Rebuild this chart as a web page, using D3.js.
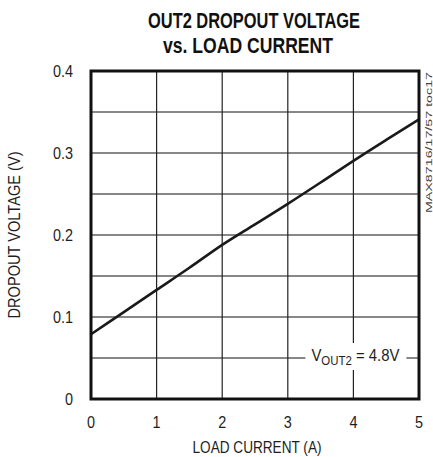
<!DOCTYPE html>
<html>
<head>
<meta charset="utf-8">
<script src="https://cdn.jsdelivr.net/npm/d3@7"></script>
<style>
  body { margin: 0; background: #fff; }
  text { font-family: "Liberation Sans", Arial, sans-serif; fill: #1e1e1e; }
</style>
</head>
<body>
<div></div>
<script>
const width = 433;
const height = 457;

// load current (A) vs dropout voltage (V)
const current = [0, 0.5, 1, 1.5, 2, 2.5, 3, 3.5, 4, 4.5, 5];
const dropout = [0.079, 0.106, 0.133, 0.160, 0.188, 0.213, 0.238, 0.264, 0.2905, 0.316, 0.341];
const xTicks = [0, 1, 2, 3, 4, 5];
const yTicks = [0, 0.1, 0.2, 0.3, 0.4];
const yGrid = [0.05, 0.1, 0.15, 0.2, 0.25, 0.3, 0.35];

const margin = {top: 71, right: 14, bottom: 58, left: 91};

const x = d3.scaleLinear().domain([0, 5]).range([margin.left, width - margin.right]);
const y = d3.scaleLinear().domain([0, 0.4]).range([height - margin.bottom, margin.top]);

const svg = d3.select("body>div").append("svg")
    .attr("width", width)
    .attr("height", height)
    .attr("viewBox", [0, 0, width, height]);

// squeeze a text to a target width (the original uses a condensed face)
function squeeze(sel, w) {
    sel.attr("textLength", w).attr("lengthAdjust", "spacingAndGlyphs");
    return sel;
}
function narrow(sel, f) {
    sel.each(function () {
        const n = this.getComputedTextLength();
        d3.select(this).attr("textLength", n * f).attr("lengthAdjust", "spacingAndGlyphs");
    });
    return sel;
}

// title
squeeze(svg.append("text")
    .attr("x", 254).attr("y", 28)
    .attr("text-anchor", "middle")
    .style("font-size", "22px").style("font-weight", "bold")
    .style("fill", "#111")
    .text("OUT2 DROPOUT VOLTAGE"), 212);
squeeze(svg.append("text")
    .attr("x", 248).attr("y", 53)
    .attr("text-anchor", "middle")
    .style("font-size", "22px").style("font-weight", "bold")
    .style("fill", "#111")
    .text("vs. LOAD CURRENT"), 170);

// grid
svg.append("g")
    .attr("stroke", "#111")
    .attr("stroke-width", 1)
    .selectAll("line")
    .data(yGrid)
    .join("line")
    .attr("x1", x(0)).attr("x2", x(5))
    .attr("y1", d => y(d)).attr("y2", d => y(d));

svg.append("g")
    .attr("stroke", "#222")
    .attr("stroke-width", 1.2)
    .selectAll("line")
    .data([1, 2, 3, 4])
    .join("line")
    .attr("x1", d => x(d)).attr("x2", d => x(d))
    .attr("y1", y(0)).attr("y2", y(0.4));

// curve
const line = d3.line()
    .x((d, i) => x(current[i]))
    .y(d => y(d))
    .curve(d3.curveMonotoneX);

svg.append("path")
    .datum(dropout)
    .attr("fill", "none")
    .attr("stroke", "#1a1a1a")
    .attr("stroke-width", 2.6)
    .attr("d", line);

// label with white backing
const lbl = svg.append("g").attr("transform", `translate(${x(4)},${y(0.05)})`);
lbl.append("rect")
    .attr("x", -48).attr("y", -15).attr("width", 101).attr("height", 27)
    .attr("fill", "#fff");
const lt = lbl.append("text")
    .attr("x", -42).attr("y", 3)
    .style("font-size", "17px");
lt.append("tspan").text("V");
lt.append("tspan").attr("dy", 4).style("font-size", "13px").text("OUT2");
lt.append("tspan").attr("dy", -4).text(" = 4.8V");
squeeze(lt, 88);

// frame
svg.append("rect")
    .attr("x", x(0)).attr("y", y(0.4))
    .attr("width", x(5) - x(0)).attr("height", y(0) - y(0.4))
    .attr("fill", "none")
    .attr("stroke", "#111")
    .attr("stroke-width", 3);

// tick labels
narrow(svg.append("g")
    .selectAll("text")
    .data(yTicks)
    .join("text")
    .attr("x", 73).attr("y", d => y(d) + 6)
    .attr("text-anchor", "end")
    .style("font-size", "16px")
    .text(d => d === 0 ? "0" : d3.format(".1f")(d)), 0.9);

narrow(svg.append("g")
    .selectAll("text")
    .data(xTicks)
    .join("text")
    .attr("x", d => x(d)).attr("y", 428)
    .attr("text-anchor", "middle")
    .style("font-size", "16px")
    .text(d => d), 0.9);

// axis titles
squeeze(svg.append("text")
    .attr("x", 257).attr("y", 453)
    .attr("text-anchor", "middle")
    .style("font-size", "17px")
    .text("LOAD CURRENT (A)"), 129);

squeeze(svg.append("text")
    .attr("transform", `translate(20,${(y(0) + y(0.4)) / 2}) rotate(-90)`)
    .attr("text-anchor", "middle")
    .style("font-size", "17px")
    .text("DROPOUT VOLTAGE (V)"), 167);

squeeze(svg.append("text")
    .attr("transform", `translate(432,${y(0.4) + 1}) rotate(-90)`)
    .attr("text-anchor", "end")
    .style("font-size", "9px")
    .style("fill", "#444")
    .text("MAX8716/17/57 toc17"), 141);
</script>
</body>
</html>
